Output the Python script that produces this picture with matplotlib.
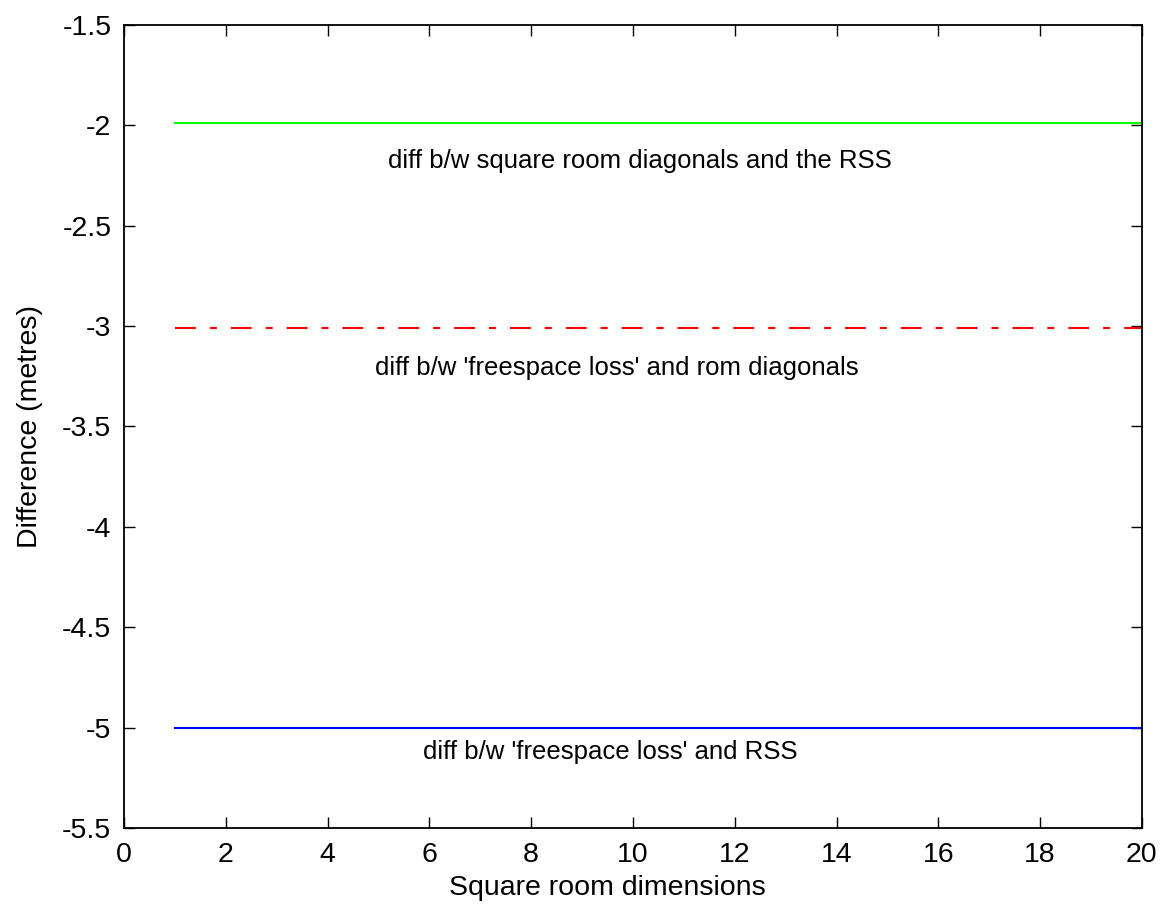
import numpy as np
import matplotlib
matplotlib.use('Agg')
import matplotlib.pyplot as plt

# square room dimensions (x) and the three differences (metres)
room_dims = [1, 2, 3, 4, 5, 6, 7, 8, 9, 10, 11, 12, 13, 14, 15, 16, 17, 18, 19, 20]
diff_diag_rss = [-1.99, -1.99, -1.99, -1.99, -1.99, -1.99, -1.99, -1.99, -1.99, -1.99,
                 -1.99, -1.99, -1.99, -1.99, -1.99, -1.99, -1.99, -1.99, -1.99, -1.99]
diff_fsl_diag = [-3.01, -3.01, -3.01, -3.01, -3.01, -3.01, -3.01, -3.01, -3.01, -3.01,
                 -3.01, -3.01, -3.01, -3.01, -3.01, -3.01, -3.01, -3.01, -3.01, -3.01]
diff_fsl_rss = [-5.0, -5.0, -5.0, -5.0, -5.0, -5.0, -5.0, -5.0, -5.0, -5.0,
                -5.0, -5.0, -5.0, -5.0, -5.0, -5.0, -5.0, -5.0, -5.0, -5.0]

xticks = [0, 2, 4, 6, 8, 10, 12, 14, 16, 18, 20]
yticks = [-5.5, -5, -4.5, -4, -3.5, -3, -2.5, -2, -1.5]
ytick_labels = ['-5.5', '-5', '-4.5', '-4', '-3.5', '-3', '-2.5', '-2', '-1.5']

plt.rcParams['font.family'] = ['Liberation Sans', 'DejaVu Sans']

fig = plt.figure(figsize=(11.65, 9.11), dpi=100)
ax = fig.add_axes([0.1064, 0.0911, 0.8738, 0.8815])

ax.plot(room_dims, diff_diag_rss, color='#00ff00', lw=1.5)
ax.plot(room_dims, diff_fsl_diag, color='#ff0000', lw=1.5, dashes=(10, 6.7, 3.4, 6.7))
ax.plot(room_dims, diff_fsl_rss, color='#0000ff', lw=1.5)

ax.text(10.14, -2.18, 'diff b/w square room diagonals and the RSS', ha='center', va='center', fontsize=18.5)
ax.text(9.69, -3.21, "diff b/w 'freespace loss' and rom diagonals", ha='center', va='center', fontsize=18.5)
ax.text(9.55, -5.12, "diff b/w 'freespace loss' and RSS", ha='center', va='center', fontsize=18.5)

ax.set_xlim(0, 20)
ax.set_ylim(-5.5, -1.5)
ax.set_xticks(xticks)
ax.set_yticks(yticks)
ax.set_yticklabels(ytick_labels)
ax.tick_params(direction='in', length=8, width=1, top=True, right=True, labelsize=20.5)
ax.tick_params(axis='y', pad=9)
ax.tick_params(axis='x', pad=10)
for s in ax.spines.values():
    s.set_linewidth(1.3)

ax.set_xlabel('Square room dimensions', fontsize=20.5, labelpad=10)
ax.set_ylabel('Difference (metres)', fontsize=20.5, labelpad=14)
ax.xaxis.set_label_coords(0.4745, -0.058)

fig.savefig('out.png', dpi=100, facecolor='white')
